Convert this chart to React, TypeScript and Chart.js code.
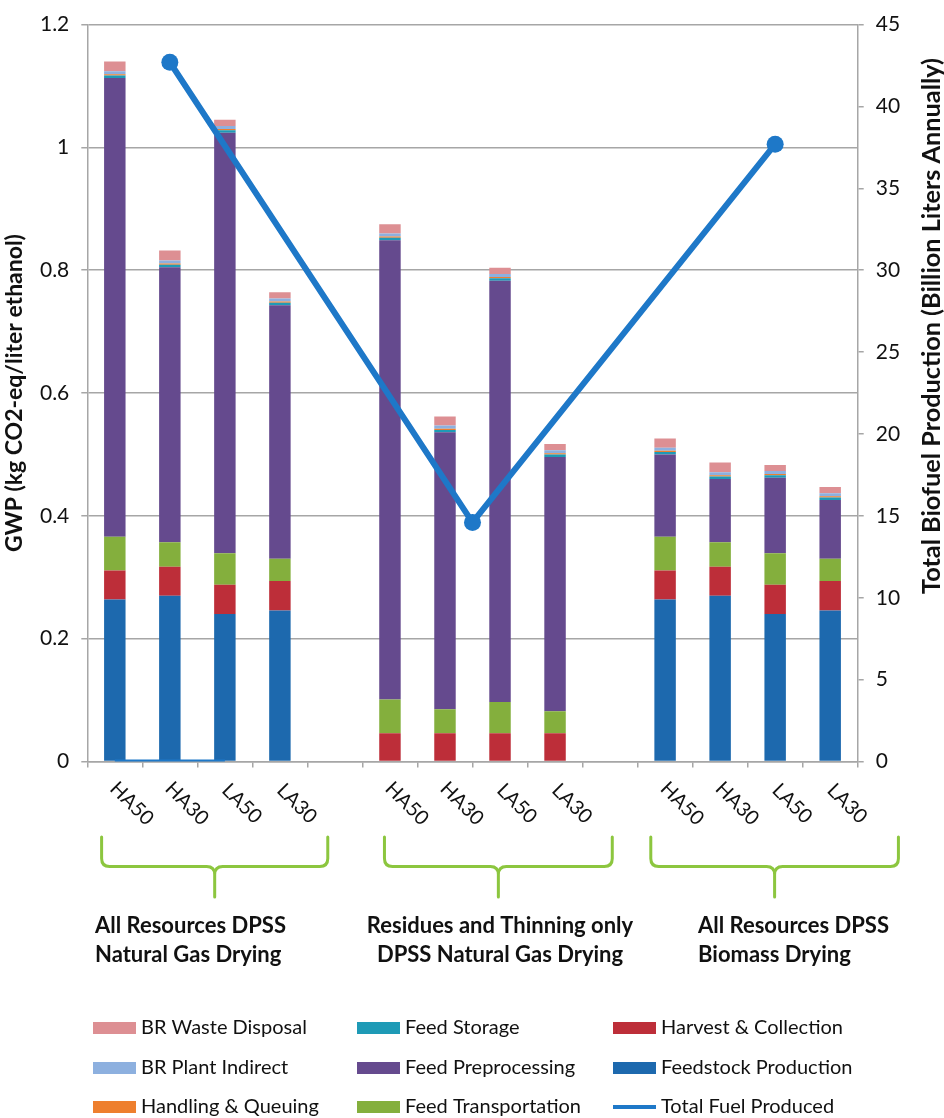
import { useEffect, useRef } from 'react';
import { Chart, registerables } from 'chart.js';

Chart.register(...registerables);

// Scenario columns; blank entries separate the three scenario groups
const categories = ['HA50', 'HA30', 'LA50', 'LA30', '', 'HA50', 'HA30', 'LA50', 'LA30', '', 'HA50', 'HA30', 'LA50', 'LA30'];

// GWP contributions (kg CO2-eq / liter ethanol), stacked bottom to top
const feedstockProduction = [0.264, 0.27, 0.24, 0.246, null, 0, 0, 0, 0, null, 0.264, 0.27, 0.24, 0.246];
const harvestCollection = [0.047, 0.047, 0.048, 0.048, null, 0.046, 0.046, 0.046, 0.046, null, 0.047, 0.047, 0.048, 0.048];
const feedTransportation = [0.055, 0.04, 0.051, 0.036, null, 0.055, 0.039, 0.051, 0.036, null, 0.055, 0.04, 0.051, 0.036];
const feedPreprocessing = [0.747, 0.448, 0.685, 0.413, null, 0.748, 0.451, 0.686, 0.414, null, 0.134, 0.103, 0.123, 0.096];
const feedStorage = [0.004, 0.004, 0.004, 0.004, null, 0.004, 0.004, 0.004, 0.004, null, 0.004, 0.004, 0.004, 0.004];
const handlingQueuing = [0.002, 0.002, 0.002, 0.002, null, 0.002, 0.002, 0.002, 0.002, null, 0.002, 0.002, 0.002, 0.002];
const brPlantIndirect = [0.005, 0.005, 0.005, 0.005, null, 0.005, 0.005, 0.005, 0.005, null, 0.005, 0.005, 0.005, 0.005];
const brWasteDisposal = [0.016, 0.016, 0.01, 0.01, null, 0.015, 0.015, 0.01, 0.01, null, 0.015, 0.016, 0.01, 0.01];

// Total fuel produced (billion liters annually), placed along the category index
const fuelPositions = [1, 6.5, 12];
const totalFuelProduced = [42.7, 14.6, 37.7];
const fuelBaselinePositions = [0, 2];
const fuelBaselineValues = [0, 0];

const gwpRange = [0, 1.2, 0.2];
const fuelRange = [0, 45, 5];

const groupTitles = [
  ['All Resources DPSS', 'Natural Gas Drying'],
  ['Residues and Thinning only', 'DPSS Natural Gas Drying'],
  ['All Resources DPSS', 'Biomass Drying'],
];
// Brace extents in category units
const groupSpans = [
  [-0.24, 3.87],
  [4.9, 9.04],
  [9.74, 14.24],
];

const COLORS = {
  feedstock: '#1D69AE',
  harvest: '#BD2E39',
  transport: '#84AF3D',
  preprocessing: '#654A8E',
  storage: '#1E9AB6',
  handling: '#EE7F2E',
  plant: '#8DB0DF',
  waste: '#DD8F93',
  fuel: '#1E78C8',
  brace: '#8CC63F',
  grid: '#A6A6A6',
  text: '#111111',
};

const FONT = 'Lato, "Liberation Sans", sans-serif';

const legendItems: { label: string; color: string; kind: 'box' | 'line' }[][] = [
  [
    { label: 'BR Waste Disposal', color: COLORS.waste, kind: 'box' },
    { label: 'BR Plant Indirect', color: COLORS.plant, kind: 'box' },
    { label: 'Handling & Queuing', color: COLORS.handling, kind: 'box' },
  ],
  [
    { label: 'Feed Storage', color: COLORS.storage, kind: 'box' },
    { label: 'Feed Preprocessing', color: COLORS.preprocessing, kind: 'box' },
    { label: 'Feed Transportation', color: COLORS.transport, kind: 'box' },
  ],
  [
    { label: 'Harvest & Collection', color: COLORS.harvest, kind: 'box' },
    { label: 'Feedstock Production', color: COLORS.feedstock, kind: 'box' },
    { label: 'Total Fuel Produced', color: COLORS.fuel, kind: 'line' },
  ],
];

// picks a bold font size so that the text spans the given length
function fitBold(ctx: CanvasRenderingContext2D, text: string, length: number) {
  ctx.font = `bold 20px ${FONT}`;
  const w = ctx.measureText(text).width;
  const size = (20 * length) / w;
  ctx.font = `bold ${size.toFixed(2)}px ${FONT}`;
}

const decorations = {
  id: 'decorations',
  afterDraw(chart: any) {
    const { ctx, chartArea } = chart;
    const xs = chart.scales.x;
    ctx.save();

    // rotated scenario labels
    ctx.fillStyle = COLORS.text;
    ctx.font = `20px ${FONT}`;
    ctx.textAlign = 'center';
    ctx.textBaseline = 'middle';
    categories.forEach((c, i) => {
      if (!c) return;
      const px = xs.getPixelForValue(i);
      ctx.save();
      ctx.translate(px + 17, chartArea.bottom + 42);
      ctx.rotate(Math.PI / 4);
      ctx.fillText(c, 0, 0);
      ctx.restore();
    });

    // curly braces under each group
    const top = 837;
    const mid = 866.5;
    const tip = 897;
    const r = 8;
    ctx.strokeStyle = COLORS.brace;
    ctx.lineWidth = 3;
    ctx.lineCap = 'round';
    groupSpans.forEach(([a, b]) => {
      const L = xs.getPixelForValue(a);
      const R = xs.getPixelForValue(b);
      const C = (L + R) / 2;
      ctx.beginPath();
      ctx.moveTo(L, top);
      ctx.lineTo(L, mid - r);
      ctx.quadraticCurveTo(L, mid, L + r, mid);
      ctx.lineTo(C - r, mid);
      ctx.quadraticCurveTo(C, mid, C, mid + r);
      ctx.lineTo(C, tip);
      ctx.moveTo(R, top);
      ctx.lineTo(R, mid - r);
      ctx.quadraticCurveTo(R, mid, R - r, mid);
      ctx.lineTo(C + r, mid);
      ctx.quadraticCurveTo(C, mid, C, mid + r);
      ctx.stroke();
    });

    // group titles
    ctx.fillStyle = COLORS.text;
    ctx.font = `bold 22px ${FONT}`;
    ctx.textBaseline = 'alphabetic';
    const titleAnchors: [number, CanvasTextAlign][] = [
      [95, 'left'],
      [500, 'center'],
      [698, 'left'],
    ];
    groupTitles.forEach((lines, g) => {
      const [ax, align] = titleAnchors[g];
      ctx.textAlign = align;
      lines.forEach((t, k) => ctx.fillText(t, ax, 933 + k * 29));
    });

    // axis titles
    ctx.textAlign = 'center';
    ctx.textBaseline = 'middle';
    const leftTitle = 'GWP (kg CO2-eq/liter ethanol)';
    const rightTitle = 'Total Biofuel Production (Billion Liters Annually)';
    ctx.save();
    fitBold(ctx, leftTitle, 318);
    ctx.translate(15, (chartArea.top + chartArea.bottom) / 2);
    ctx.rotate(-Math.PI / 2);
    ctx.fillText(leftTitle, 0, 0);
    ctx.restore();
    ctx.save();
    fitBold(ctx, rightTitle, 536);
    ctx.translate(932, 326);
    ctx.rotate(-Math.PI / 2);
    ctx.fillText(rightTitle, 0, 0);
    ctx.restore();

    // legend in three columns
    const colX = [93, 357, 613];
    const rowY = [1028, 1068, 1107];
    ctx.font = `20px ${FONT}`;
    ctx.textAlign = 'left';
    ctx.textBaseline = 'middle';
    legendItems.forEach((col, ci) => {
      col.forEach((item, ri) => {
        const x = colX[ci];
        const y = rowY[ri];
        ctx.fillStyle = item.color;
        if (item.kind === 'box') {
          ctx.fillRect(x, y - 6, 43, 12);
        } else {
          ctx.fillRect(x, y - 2, 43, 4);
        }
        ctx.fillStyle = COLORS.text;
        ctx.fillText(item.label, x + 48, y);
      });
    });

    ctx.restore();
  },
};

export default function App() {
  const canvasRef = useRef<HTMLCanvasElement | null>(null);

  useEffect(() => {
    if (!canvasRef.current) return;
    const bar = (label: string, data: (number | null)[], color: string) => ({
      type: 'bar' as const,
      label,
      data,
      backgroundColor: color,
      borderWidth: 0,
      grouped: false,
      barPercentage: 0.39,
      categoryPercentage: 1,
      xAxisID: 'x',
      yAxisID: 'y',
      order: 1,
    });
    const tickFont = { family: FONT, size: 21 };

    const chart = new Chart(canvasRef.current, {
      type: 'bar',
      data: {
        labels: categories,
        datasets: [
          bar('Feedstock Production', feedstockProduction, COLORS.feedstock),
          bar('Harvest & Collection', harvestCollection, COLORS.harvest),
          bar('Feed Transportation', feedTransportation, COLORS.transport),
          bar('Feed Preprocessing', feedPreprocessing, COLORS.preprocessing),
          bar('Feed Storage', feedStorage, COLORS.storage),
          bar('Handling & Queuing', handlingQueuing, COLORS.handling),
          bar('BR Plant Indirect', brPlantIndirect, COLORS.plant),
          bar('BR Waste Disposal', brWasteDisposal, COLORS.waste),
          {
            type: 'line' as const,
            label: 'Total Fuel Produced',
            data: fuelPositions.map((x, i) => ({ x, y: totalFuelProduced[i] })),
            xAxisID: 'xl',
            yAxisID: 'y2',
            borderColor: COLORS.fuel,
            backgroundColor: COLORS.fuel,
            borderWidth: 6,
            pointRadius: 8.5,
            pointBorderWidth: 0,
            pointBackgroundColor: COLORS.fuel,
            tension: 0,
            order: 0,
          },
          {
            type: 'line' as const,
            label: 'Total Fuel Produced (baseline)',
            data: fuelBaselinePositions.map((x, i) => ({ x, y: fuelBaselineValues[i] })),
            xAxisID: 'xl',
            yAxisID: 'y2',
            borderColor: COLORS.fuel,
            borderWidth: 4,
            pointRadius: 0,
            tension: 0,
            order: 0,
          },
        ] as any,
      },
      options: {
        responsive: false,
        animation: false,
        events: [],
        layout: { padding: { top: 24, left: 0, right: 0, bottom: 0 } },
        plugins: {
          legend: { display: false },
          tooltip: { enabled: false },
        },
        scales: {
          x: {
            stacked: true,
            grid: {
              display: true,
              drawOnChartArea: false,
              drawTicks: true,
              tickLength: 6,
              color: COLORS.grid,
              lineWidth: 1.5,
              offset: true,
            },
            border: { color: COLORS.grid, width: 1.5 },
            ticks: { display: false },
            afterFit: (s: any) => {
              s.height = 356.5;
            },
          },
          xl: {
            type: 'linear',
            display: false,
            offset: false,
            min: -0.5,
            max: categories.length - 0.5,
          },
          y: {
            stacked: true,
            position: 'left',
            min: gwpRange[0],
            max: gwpRange[1],
            ticks: {
              stepSize: gwpRange[2],
              padding: 12,
              color: COLORS.text,
              font: tickFont,
              callback: (v: any) => String(Number(Number(v).toFixed(1))),
            },
            grid: { color: COLORS.grid, lineWidth: 1.5, tickLength: 6 },
            border: { color: COLORS.grid, width: 1.5 },
            afterFit: (s: any) => {
              s.width = 87.3;
            },
          },
          y2: {
            position: 'right',
            min: fuelRange[0],
            max: fuelRange[1],
            ticks: {
              stepSize: fuelRange[2],
              padding: 12,
              color: COLORS.text,
              font: tickFont,
            },
            grid: { drawOnChartArea: false, color: COLORS.grid, lineWidth: 1.5, tickLength: 6 },
            border: { color: COLORS.grid, width: 1.5 },
            afterFit: (s: any) => {
              s.width = 86.3;
            },
          },
        } as any,
      },
      plugins: [decorations],
    });
    return () => chart.destroy();
  }, []);

  return (
    <div style={{ position: 'fixed', left: 0, top: 0, width: 944, height: 1118, background: '#fff' }}>
      <canvas ref={canvasRef} width={944} height={1118} style={{ display: 'block' }} />
    </div>
  );
}
